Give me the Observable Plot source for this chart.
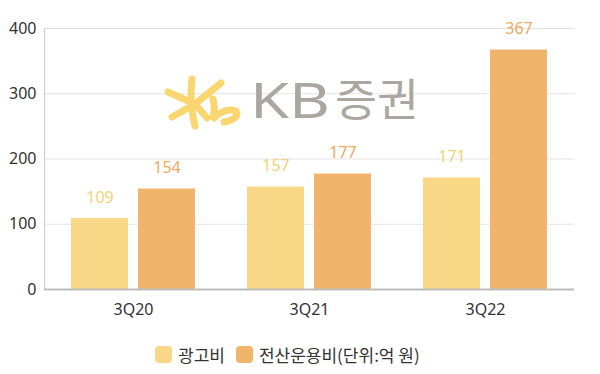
<!DOCTYPE html>
<html>
<head>
<meta charset="utf-8">
<script src="https://cdn.jsdelivr.net/npm/d3@7"></script>
<script src="https://cdn.jsdelivr.net/npm/@observablehq/plot@0.6"></script>
<style>
  html, body { margin: 0; padding: 0; background: #fff; }
  body { width: 600px; height: 374px; position: relative; overflow: hidden; font-family: 'Noto Sans CJK KR', 'Noto Sans', sans-serif; }
  #chart { position: absolute; left: 0; top: 0; }
  #logo { position: absolute; left: 0; top: 0; pointer-events: none; }
  #legend { position: absolute; left: 155px; top: 342px; display: flex; align-items: center; font-size: 17px; color: #333; }
  .item { display: flex; align-items: center; margin-right: 11px; }
  .sw { width: 17px; height: 17px; border-radius: 4px; margin-right: 6px; }
</style>
</head>
<body>
<div id="chart"></div>
<svg id="logo" width="600" height="374">
  <g stroke="#f9d670" stroke-width="7" stroke-linecap="round" fill="none">
    <path d="M192,79 Q189,102 195,126"/>
    <path d="M168,92 L195,104"/>
    <path d="M172,117 L195,104"/>
    <path d="M221,83 L195,104"/>
    <path d="M195,104 L207,118"/>
    <path d="M213,99 Q216,111 212,120 Q224,107 236,111 Q240,119 224,122"/>
  </g>
  <text x="250" y="118" textLength="80" lengthAdjust="spacingAndGlyphs" font-family="'Noto Sans', sans-serif" font-size="49" fill="#aba6a0">KB</text>
  <text x="335" y="116" textLength="84" lengthAdjust="spacingAndGlyphs" font-family="'Noto Sans CJK KR', sans-serif" font-size="44" fill="#aba6a0">증권</text>
</svg>
<div id="legend"></div>
<script>
const quarters = ["3Q20", "3Q21", "3Q22"];
const seriesNames = ["광고비", "전산운용비(단위:억 원)"];
const adCost = [109, 157, 171];
const itCost = [154, 177, 367];
const yTicks = [0, 100, 200, 300, 400];
const barColors = ["#f8d886", "#f1b46b"];
const labelColors = ["#f4d27a", "#eeaa5f"];

const adData = quarters.map((q, i) => ({q, v: adCost[i]}));
const itData = quarters.map((q, i) => ({q, v: itCost[i]}));

// each quarter band holds two bars with a small gap between them
const half = 33.5;
const numFont = "'Noto Sans', 'Noto Sans CJK KR', sans-serif";
const hasAxisMarks = typeof Plot.axisX === "function";

const axisMarks = hasAxisMarks ? [
  Plot.axisY({ticks: yTicks, tickSize: 0, tickPadding: 8, tickFormat: d => String(d), label: null, fontSize: 16, fontFamily: numFont, fill: "#333"}),
  Plot.axisX({tickSize: 0, tickPadding: 14, label: null, fontSize: 16, fontFamily: numFont, fill: "#333"})
] : [];

const chart = Plot.plot({
  width: 600,
  height: 325,
  marginTop: 28,
  marginBottom: 36,
  marginLeft: 44,
  marginRight: 26,
  style: {fontFamily: numFont, fontSize: "16px", color: "#333", background: "transparent"},
  x: {domain: quarters, paddingInner: 0.294, paddingOuter: 0.147, label: null, tickSize: 0, tickPadding: 14},
  y: {domain: [0, 400], ticks: yTicks, label: null, tickSize: 0, tickPadding: 8, tickFormat: d => String(d)},
  marks: [
    ...axisMarks,
    Plot.ruleY(yTicks.slice(1), {stroke: "#e4e4e4", strokeWidth: 1.2}),
    Plot.frame({anchor: "left", stroke: "#d0d0d0", strokeWidth: 1.2}),
    Plot.barY(adData, {x: "q", y: "v", fill: barColors[0], insetRight: 67}),
    Plot.barY(itData, {x: "q", y: "v", fill: barColors[1], insetLeft: 67}),
    Plot.text(adData, {x: "q", y: "v", text: d => String(d.v), fill: labelColors[0], dx: -half, dy: -21, fontSize: 16, fontFamily: numFont}),
    Plot.text(itData, {x: "q", y: "v", text: d => String(d.v), fill: labelColors[1], dx: half, dy: -21, fontSize: 16, fontFamily: numFont}),
    Plot.ruleY([0], {stroke: "#bdbdbd", strokeWidth: 2})
  ]
});
document.getElementById("chart").appendChild(chart);

const legend = document.getElementById("legend");
seriesNames.forEach((name, i) => {
  const item = document.createElement("div");
  item.className = "item";
  const sw = document.createElement("div");
  sw.className = "sw";
  sw.style.background = barColors[i];
  const label = document.createElement("span");
  label.textContent = name;
  item.appendChild(sw);
  item.appendChild(label);
  legend.appendChild(item);
});
</script>
</body>
</html>
